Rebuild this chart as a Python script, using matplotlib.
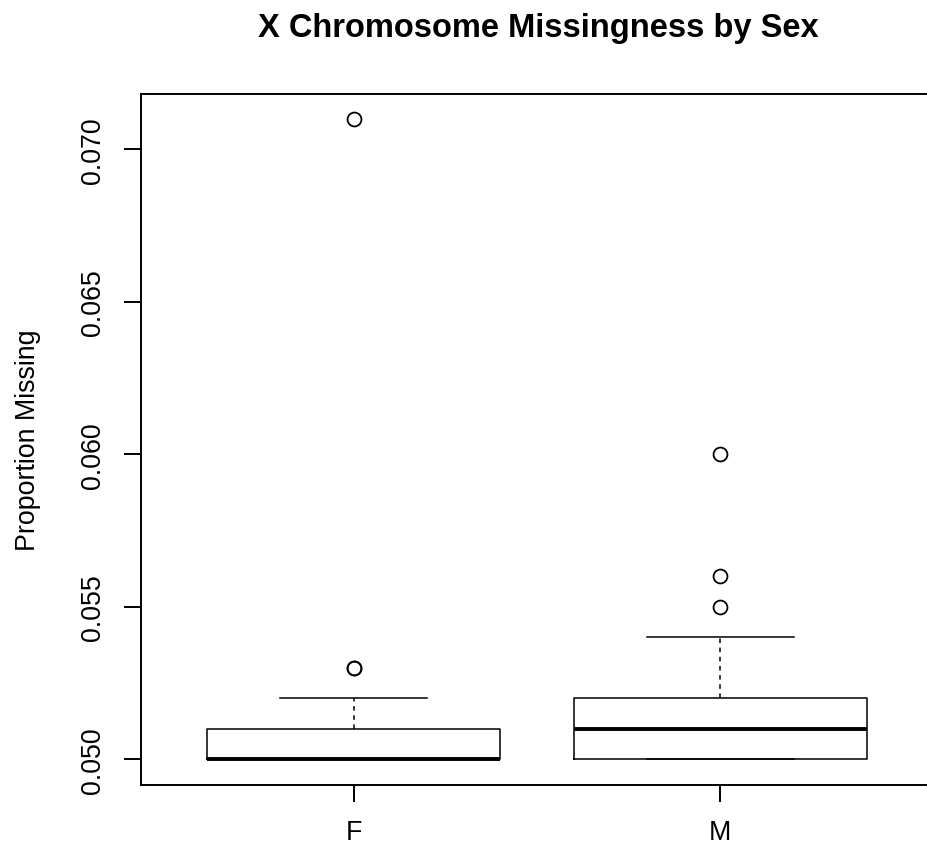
import matplotlib
matplotlib.use("Agg")
from matplotlib import pyplot as plt

plt.rcParams['font.family'] = ['Liberation Sans', 'DejaVu Sans']

# values
groups = ['F', 'M']
q1 = [0.050, 0.050]
med = [0.050, 0.051]
q3 = [0.051, 0.052]
whislo = [0.050, 0.050]
whishi = [0.052, 0.054]
fliers = [[0.053, 0.053, 0.071], [0.055, 0.056, 0.060]]
yticks = [0.050, 0.055, 0.060, 0.065, 0.070]

W, H = 927, 853
fig = plt.figure(figsize=(W / 100, H / 100), dpi=100)
ax = fig.add_axes([141 / W, (H - 786) / H, (935 - 141) / W, (786 - 95) / H])

stats = []
for i, g in enumerate(groups):
    stats.append(dict(label=g, q1=q1[i], med=med[i], q3=q3[i],
                      whislo=whislo[i], whishi=whishi[i], fliers=fliers[i]))

ax.bxp(stats, positions=[1, 2], widths=0.8, showfliers=True,
       boxprops=dict(color='black', linewidth=1.1),
       medianprops=dict(color='black', linewidth=2.8, solid_capstyle='butt'),
       whiskerprops=dict(color='black', linewidth=1.1, linestyle=(0, (3, 3))),
       capprops=dict(color='black', linewidth=1.1),
       capwidths=0.4,
       flierprops=dict(marker='o', markerfacecolor='none', markeredgecolor='black',
                       markersize=10, markeredgewidth=1.3, linestyle='none'))

ax.set_xlim(0.4194, 2.586)
ax.set_ylim(0.049157, 0.071813)
ax.set_yticks(yticks)
ax.set_yticklabels(['%.3f' % v for v in yticks], rotation=90, va='center')
ax.set_xticks([1, 2])
ax.set_xticklabels(groups)

for s in ax.spines.values():
    s.set_linewidth(1.4)
ax.tick_params(axis='both', length=12.2, width=1.4, labelsize=19.3, color='black')
ax.tick_params(axis='y', pad=13)
ax.tick_params(axis='x', pad=12)

fig.text(538 / W, (H - 37) / H, 'X Chromosome Missingness by Sex',
         ha='center', va='baseline', fontsize=23.5, fontweight='bold')
fig.text(28 / W, (H - 440) / H, 'Proportion Missing', rotation=90,
         ha='center', va='center', fontsize=19.3)

fig.savefig('out.png', dpi=100)
